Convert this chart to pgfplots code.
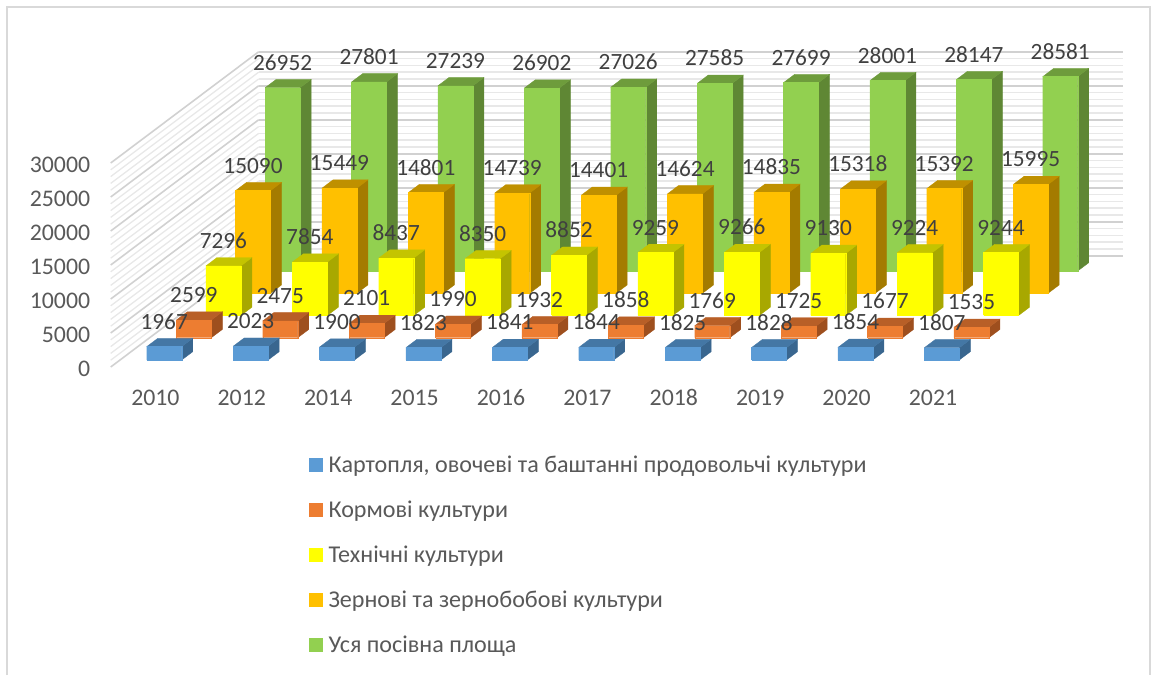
\documentclass[border=0pt]{standalone}
\usepackage{fontspec}
\setmainfont{Carlito}
\usepackage{pgfplots}
\pgfplotsset{compat=1.18}
\definecolor{bF}{HTML}{5B9BD5}\definecolor{bT}{HTML}{4477A5}\definecolor{bS}{HTML}{39668F}
\definecolor{rF}{HTML}{ED7D31}\definecolor{rT}{HTML}{B85F27}\definecolor{rS}{HTML}{9E4F1E}
\definecolor{yF}{HTML}{FFFF00}\definecolor{yT}{HTML}{C4C400}\definecolor{yS}{HTML}{A8A800}
\definecolor{oF}{HTML}{FFC000}\definecolor{oT}{HTML}{BF9000}\definecolor{oS}{HTML}{A47B00}
\definecolor{gF}{HTML}{92D050}\definecolor{gT}{HTML}{6E9C3C}\definecolor{gS}{HTML}{5F8734}
\newcommand\lblfont{\fontsize{23.3}{28}\selectfont}
\newcommand\tickfont{\fontsize{23.8}{28}\selectfont}
% #1 category slot, #2 series slot, #3 value, #4 colour prefix
\newcommand\Bar[4]{%
  \pgfmathsetmacro\xa{#1+0.309}\pgfmathsetmacro\xb{#1+0.714}\pgfmathsetmacro\xc{#1+0.5115}%
  \pgfmathsetmacro\ya{#2+0.315}\pgfmathsetmacro\yb{#2+0.688}%
  \edef\tmp{%
  \noexpand\addplot3[forget plot,fill=#4S,draw=#4S,line width=.3pt] coordinates {(\xb,\ya,0) (\xb,\yb,0) (\xb,\yb,#3) (\xb,\ya,#3) (\xb,\ya,0)};
  \noexpand\addplot3[forget plot,fill=#4T,draw=#4T,line width=.3pt] coordinates {(\xa,\ya,#3) (\xb,\ya,#3) (\xb,\yb,#3) (\xa,\yb,#3) (\xa,\ya,#3)};
  \noexpand\addplot3[forget plot,fill=#4F,draw=#4F,line width=.3pt] coordinates {(\xa,\ya,0) (\xb,\ya,0) (\xb,\ya,#3) (\xa,\ya,#3) (\xa,\ya,0)};
  \noexpand\addplot3[forget plot,draw=none,mark=none,nodes near coords={#3},nodes near coords style={anchor=center,text height=15pt,text depth=0pt,yshift=25pt,font=\noexpand\lblfont,text=labelc}] coordinates {(\xc,\ya,#3)};
  }\tmp}
\definecolor{labelc}{HTML}{404040}
\definecolor{tickc}{HTML}{595959}
\begin{document}
\begin{tikzpicture}[x=1pt,y=1pt]
\useasboundingbox (0,0) rectangle (1166,675);
\draw[color=black!15,line width=1.6pt] (7,0) -- (7,668) -- (1150,668) -- (1150,0);
\begin{axis}[
  anchor=origin, at={(110.7pt,308pt)},
  x={(86.4pt,0pt)}, y={(29.6pt,22.25pt)}, z={(0pt,0.0068pt)},
  xmin=0,xmax=10,ymin=0,ymax=5,zmin=0,zmax=30000,
  clip=false,
  axis line style={draw=none},
  major tick length=0pt, minor tick length=0pt,
  xtick={0.5,1.5,...,9.5},
  xticklabels={2010,2012,2014,2015,2016,2017,2018,2019,2020,2021},
  ytick=\empty,
  ztick={0,5000,...,30000},
  minor z tick num=4,
  zmajorgrids=true, zminorgrids=true,
  major z grid style={color=black!18,line width=1.6pt},
  minor z grid style={color=black!9,line width=1.3pt},
  scaled z ticks=false,
  /pgf/number format/1000 sep={},
  /pgf/number format/assume math mode=true,
  tick label style={font=\tickfont,text=tickc,text height=15pt,text depth=0pt},
  x tick label style={anchor=center,yshift=-31pt,xshift=1.5pt},
  z tick label style={anchor=east,xshift=-17pt,yshift=-1.5pt},
  legend style={at={(axis description cs:0.2,-0.2)},anchor=north west,draw=none,fill=none,
    xshift=-7pt,yshift=-22pt,
    font=\fontsize{24.1}{28}\selectfont,text=tickc,row sep=22.8pt},
  legend cell align=left,
  legend image code/.code={\path[#1,draw=none] (0pt,-7pt) rectangle (14pt,7pt);\path (17pt,0pt);},
]
\addlegendimage{fill=bF}\addlegendentry{Картопля, овочеві та баштанні продовольчі культури}
\addlegendimage{fill=rF}\addlegendentry{Кормові культури}
\addlegendimage{fill=yF}\addlegendentry{Технічні культури}
\addlegendimage{fill=oF}\addlegendentry{Зернові та зернобобові культури}
\addlegendimage{fill=gF}\addlegendentry{Уся посівна площа}
% Уся посівна площа
\Bar{0}{4}{26952}{g}\Bar{1}{4}{27801}{g}\Bar{2}{4}{27239}{g}\Bar{3}{4}{26902}{g}\Bar{4}{4}{27026}{g}
\Bar{5}{4}{27585}{g}\Bar{6}{4}{27699}{g}\Bar{7}{4}{28001}{g}\Bar{8}{4}{28147}{g}\Bar{9}{4}{28581}{g}
% Зернові
\Bar{0}{3}{15090}{o}\Bar{1}{3}{15449}{o}\Bar{2}{3}{14801}{o}\Bar{3}{3}{14739}{o}\Bar{4}{3}{14401}{o}
\Bar{5}{3}{14624}{o}\Bar{6}{3}{14835}{o}\Bar{7}{3}{15318}{o}\Bar{8}{3}{15392}{o}\Bar{9}{3}{15995}{o}
% Технічні
\Bar{0}{2}{7296}{y}\Bar{1}{2}{7854}{y}\Bar{2}{2}{8437}{y}\Bar{3}{2}{8350}{y}\Bar{4}{2}{8852}{y}
\Bar{5}{2}{9259}{y}\Bar{6}{2}{9266}{y}\Bar{7}{2}{9130}{y}\Bar{8}{2}{9224}{y}\Bar{9}{2}{9244}{y}
% Кормові
\Bar{0}{1}{2599}{r}\Bar{1}{1}{2475}{r}\Bar{2}{1}{2101}{r}\Bar{3}{1}{1990}{r}\Bar{4}{1}{1932}{r}
\Bar{5}{1}{1858}{r}\Bar{6}{1}{1769}{r}\Bar{7}{1}{1725}{r}\Bar{8}{1}{1677}{r}\Bar{9}{1}{1535}{r}
% Картопля
\Bar{0}{0}{1967}{b}\Bar{1}{0}{2023}{b}\Bar{2}{0}{1900}{b}\Bar{3}{0}{1823}{b}\Bar{4}{0}{1841}{b}
\Bar{5}{0}{1844}{b}\Bar{6}{0}{1825}{b}\Bar{7}{0}{1828}{b}\Bar{8}{0}{1854}{b}\Bar{9}{0}{1807}{b}
\end{axis}
\end{tikzpicture}
\end{document}
